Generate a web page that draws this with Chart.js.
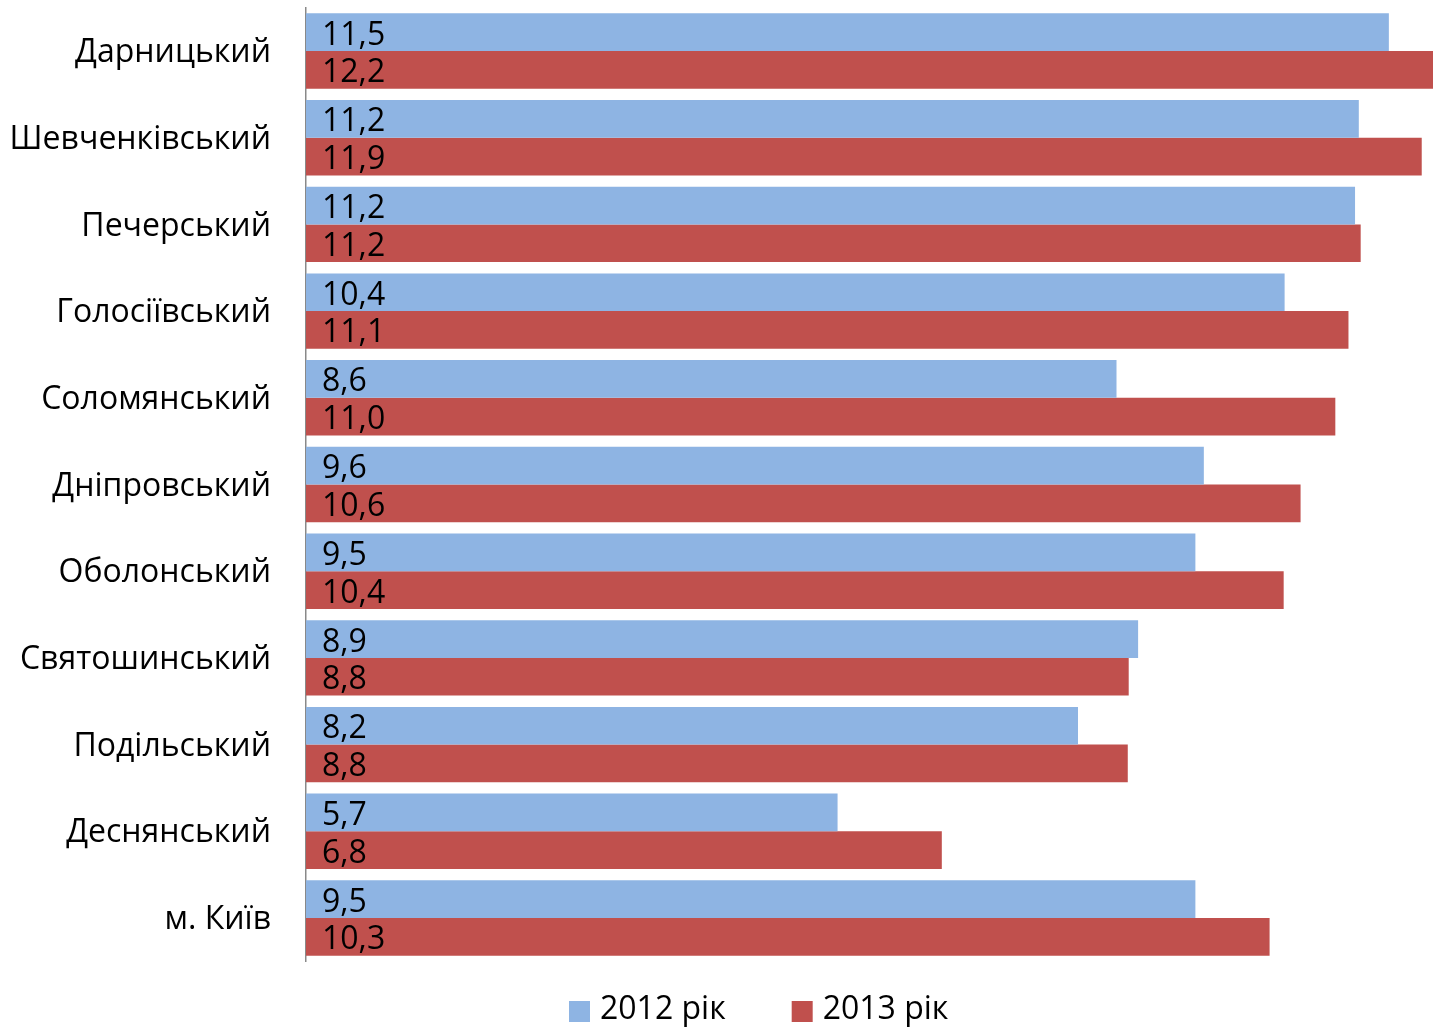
<!DOCTYPE html>
<html>
<head>
<meta charset="utf-8">
<script src="https://cdn.jsdelivr.net/npm/chart.js@4/dist/chart.umd.min.js"></script>
<style>
  html, body { margin: 0; padding: 0; background: #ffffff; }
  #wrap { width: 1433px; height: 1028px; position: relative; }
</style>
</head>
<body>
<div id="wrap"><canvas id="c" width="1433" height="1028"></canvas></div>
<script>
const categories = ['Дарницький', 'Шевченківський', 'Печерський', 'Голосіївський', 'Соломянський',
  'Дніпровський', 'Оболонський', 'Святошинський', 'Подільський', 'Деснянський', 'м. Київ'];
const seriesNames = ['2012 рік', '2013 рік'];
const values2012 = [11.53, 11.21, 11.17, 10.42, 8.63, 9.56, 9.47, 8.86, 8.22, 5.66, 9.47];
const values2013 = [12.2, 11.88, 11.23, 11.10, 10.96, 10.59, 10.41, 8.76, 8.75, 6.77, 10.26];
const seriesColors = ['#8EB4E3', '#C0504D'];
const xMax = 12;

const FONT = '"Open Sans", "Noto Sans", sans-serif';

const valueLabels = {
  id: 'valueLabels',
  afterDatasetsDraw(chart) {
    const ctx = chart.ctx;
    ctx.save();
    ctx.font = '32px ' + FONT;
    ctx.fillStyle = '#000000';
    ctx.textAlign = 'left';
    ctx.textBaseline = 'alphabetic';
    chart.data.datasets.forEach((ds, di) => {
      const meta = chart.getDatasetMeta(di);
      meta.data.forEach((el, i) => {
        const txt = ds.data[i].toFixed(1).replace('.', ',');
        ctx.fillText(txt, el.base + 16, el.y + 12.5);
      });
    });
    ctx.restore();
  }
};

const customLegend = {
  id: 'customLegend',
  afterDraw(chart) {
    const ctx = chart.ctx;
    ctx.save();
    ctx.font = '32px ' + FONT;
    ctx.textBaseline = 'alphabetic';
    ctx.textAlign = 'left';
    const box = 21, gapText = 10, gapItem = 66;
    let x = 569;
    const boxTop = 1001;
    chart.data.datasets.forEach((ds) => {
      ctx.fillStyle = ds.backgroundColor;
      ctx.fillRect(x, boxTop, box, box);
      ctx.fillStyle = '#000000';
      const tx = x + box + gapText;
      ctx.fillText(ds.label, tx, 1018.5);
      x = tx + ctx.measureText(ds.label).width + gapItem;
    });
    ctx.restore();
  }
};

new Chart(document.getElementById('c'), {
  type: 'bar',
  data: {
    labels: categories,
    datasets: [
      { label: seriesNames[0], data: values2012, backgroundColor: seriesColors[0], borderWidth: 0 },
      { label: seriesNames[1], data: values2013, backgroundColor: seriesColors[1], borderWidth: 0 }
    ]
  },
  options: {
    indexAxis: 'y',
    responsive: false,
    animation: false,
    devicePixelRatio: 1,
    categoryPercentage: 0.87,
    barPercentage: 1.0,
    layout: { padding: { top: 7.65, bottom: 66.65, left: 0, right: 0 } },
    plugins: {
      legend: { display: false },
      tooltip: { enabled: false }
    },
    scales: {
      x: {
        display: false,
        min: 0,
        max: xMax
      },
      y: {
        grid: { display: false, drawTicks: false, tickLength: 0 },
        border: { display: true, color: '#898989', width: 1.5 },
        ticks: {
          color: '#000000',
          font: { family: FONT, size: 32 },
          padding: 35,
          labelOffset: 2
        },
        afterFit(axis) {
          axis.width = 306;
          axis.paddingTop = 0;
          axis.paddingBottom = 0;
        }
      }
    }
  },
  plugins: [valueLabels, customLegend]
});
</script>
</body>
</html>
